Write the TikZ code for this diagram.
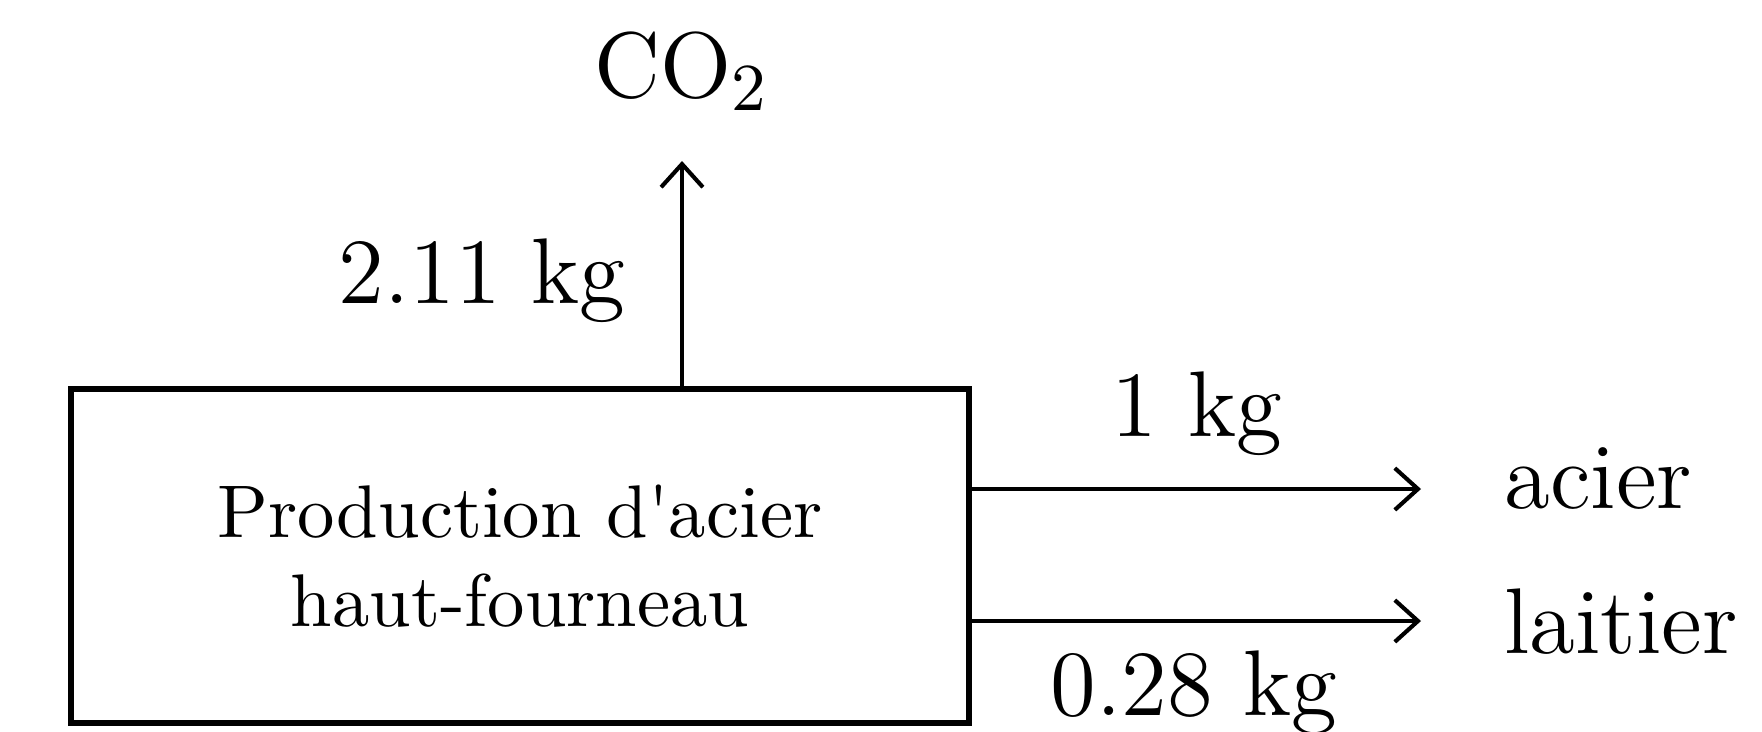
\documentclass[tikz,border=0pt]{standalone}
\usepackage{tikz}
\usetikzlibrary{arrows.meta}

\begin{document}
\begin{tikzpicture}[x=0.134pt,y=0.134pt,yscale=-1,xscale=1,
  >={Straight Barb[length=3.1pt,width=5.6pt]},
  flow/.style={->,line width=0.55pt},
  lbl/.style={anchor=base,inner sep=0pt,font=\fontsize{12.5}{15}\selectfont},
  procbox/.style={draw,line width=0.8pt,minimum width=120.3pt,minimum height=44.8pt,align=center,inner sep=0pt}]
\useasboundingbox (0,0) rectangle (1762,731);

%Shape: Rectangle
\node [procbox] (four) at (520,556) {Production d\textquotesingle acier\\haut-fourneau};

% Text Node
\node [lbl] (co2) at (682,97) {CO$_2$};
% Text Node
\node [lbl,anchor=base west] (acier) at (1503,508) {acier};
% Text Node
\node [lbl,anchor=base west] (laitier) at (1503,653) {laitier};

\coordinate (co2end) at (682,161);
\coordinate (acierend) at (1421,489);
\coordinate (laitierend) at (1421,621);

%Straight Lines
\draw [flow] (four.north -| co2end) -- (co2end);
\draw [flow] (four.east |- acierend) -- (acierend);
\draw [flow] (four.east |- laitierend) -- (laitierend);

% Text Node
\node [lbl] (mco2) at (482,303) {2.11 kg};
% Text Node
\node [lbl] (macier) at (1197,436) {1 kg};
% Text Node
\node [lbl] (mlaitier) at (1194,715) {0.28 kg};

\end{tikzpicture}
\end{document}
